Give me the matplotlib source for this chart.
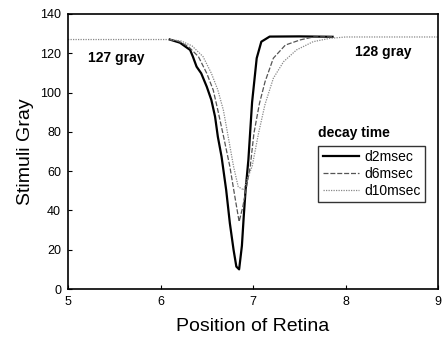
import numpy as np
import matplotlib.pyplot as plt

plt.rcParams['font.family'] = ['Liberation Sans', 'DejaVu Sans']

# values
x_d2 = [6.10, 6.21, 6.32, 6.35, 6.39, 6.44, 6.50, 6.55, 6.59, 6.62, 6.66,
        6.71, 6.75, 6.79, 6.82, 6.85, 6.88, 6.90, 6.92, 6.95, 6.99,
        7.04, 7.09, 7.18, 7.50, 7.86]
y_d2 = [127.0, 125.4, 121.7, 118.3, 113.2, 109.8, 103.0, 96.2, 87.7, 77.5, 67.4,
        50.4, 33.4, 19.9, 11.4, 10.0, 22.0, 37.0, 50.4, 65.7, 95.0,
        117.5, 125.9, 128.5, 128.6, 128.4]

x_d6 = [6.10, 6.20, 6.30, 6.41, 6.50, 6.57, 6.62, 6.68, 6.75, 6.81, 6.85,
        6.89, 6.93, 6.97, 7.01, 7.07, 7.13, 7.22, 7.35, 7.51, 7.65, 7.86]
y_d6 = [127.0, 126.0, 123.5, 118.3, 109.8, 101.3, 91.0, 78.0, 62.3, 45.3, 34.3,
        41.9, 52.0, 62.3, 79.3, 94.5, 105.5, 117.5, 124.2, 126.8, 128.3, 128.4]

x_d10 = [5.00, 6.10, 6.22, 6.34, 6.46, 6.55, 6.62, 6.68, 6.73, 6.79, 6.84,
         6.90, 6.93, 6.99, 7.06, 7.13, 7.22, 7.33, 7.47, 7.65, 7.83, 8.00, 9.00]
y_d10 = [127.0, 127.0, 126.3, 123.8, 118.3, 109.8, 101.3, 91.0, 78.0, 62.3, 52.1,
         50.4, 55.0, 62.3, 79.3, 94.0, 107.3, 115.7, 121.7, 125.9, 127.6, 128.3, 128.3]

fig = plt.figure(figsize=(4.43, 3.37), dpi=100)
ax = fig.add_axes([68/443, 48/337, 370/443, 275/337])

ax.plot(x_d2, y_d2, color='black', lw=1.6, label='d2msec')
ax.plot(x_d6, y_d6, color='#555555', lw=0.9, ls=(0, (4, 1.5)), label='d6msec')
ax.plot(x_d10, y_d10, color='#888888', lw=0.9, ls=(0, (1, 1)), label='d10msec')

ax.set_xlim(5, 9)
ax.set_ylim(0, 140)
ax.set_xticks([5, 6, 7, 8, 9])
ax.set_yticks(np.arange(0, 141, 20))
ax.tick_params(direction='in', length=3, labelsize=9, width=0.8, pad=5)
for s in ax.spines.values():
    s.set_linewidth(1.2)

ax.set_xlabel('Position of Retina', fontsize=14, labelpad=7)
ax.set_ylabel('Stimuli Gray', fontsize=14, labelpad=4)

ax.text(5.22, 117.6, '127 gray', fontsize=10, fontweight='bold', va='center')
ax.text(8.1, 120.7, '128 gray', fontsize=10, fontweight='bold', va='center')
ax.text(7.70, 79.5, 'decay time', fontsize=10, fontweight='bold', va='center')

leg = ax.legend(loc='upper left', bbox_to_anchor=(0.658, 0.545), fontsize=10,
                frameon=True, fancybox=False, edgecolor='black',
                handlelength=2.6, handletextpad=0.4, borderpad=0.3,
                labelspacing=0.2)
leg.get_frame().set_linewidth(1.0)

fig.savefig('out.png', dpi=100)
